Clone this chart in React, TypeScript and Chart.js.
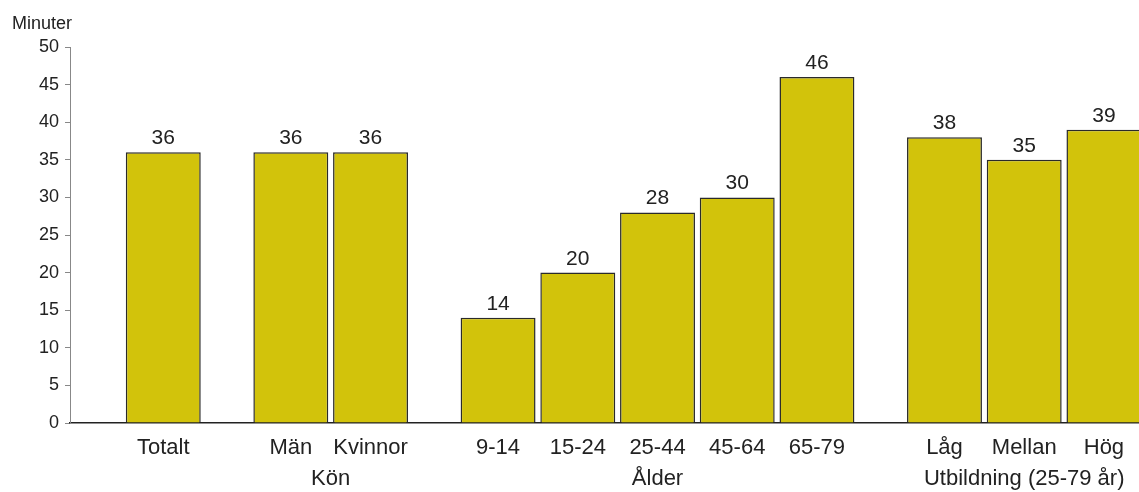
import React, { useEffect, useRef } from 'react';
import { Chart, registerables } from 'chart.js';

Chart.register(...registerables);

const categories = ['Totalt', 'Män', 'Kvinnor', '9-14', '15-24', '25-44', '45-64', '65-79', 'Låg', 'Mellan', 'Hög'];
const values = [36, 36, 36, 14, 20, 28, 30, 46, 38, 35, 39];
const groupSizes = [1, 2, 5, 3];
const groupLabels = ['', 'Kön', 'Ålder', 'Utbildning (25-79 år)'];
const yTicks = [0, 5, 10, 15, 20, 25, 30, 35, 40, 45, 50];
const yTitle = 'Minuter';

const FONT = '"Liberation Sans", Arial, Helvetica, sans-serif';
const TEXT = '#222222';
const GAP = 0.6;

// layout positions derived from the group structure
const positions: number[] = [];
const groupCenters: number[] = [];
{
  let p = 0;
  groupSizes.forEach((n) => {
    const start = p;
    for (let i = 0; i < n; i++) {
      positions.push(p);
      p += 1;
    }
    groupCenters.push((start + p - 1) / 2);
    p += GAP;
  });
}
const X_MIN = positions[0] - 1.17;
const X_MAX = positions[positions.length - 1] + 0.44;

const dataLabelPlugin = {
  id: 'dataLabels',
  afterDatasetsDraw(chart: any) {
    const ctx = chart.ctx;
    const meta = chart.getDatasetMeta(0);
    ctx.save();
    ctx.font = `21px ${FONT}`;
    ctx.fillStyle = TEXT;
    ctx.textAlign = 'center';
    ctx.textBaseline = 'alphabetic';
    meta.data.forEach((el: any, i: number) => {
      ctx.fillText(String(values[i]), el.x, el.y - 8);
    });
    ctx.restore();
  },
};

const yTitlePlugin = {
  id: 'yTitle',
  afterDraw(chart: any) {
    const ctx = chart.ctx;
    ctx.save();
    ctx.font = `18px ${FONT}`;
    ctx.fillStyle = TEXT;
    ctx.textAlign = 'left';
    ctx.textBaseline = 'alphabetic';
    ctx.fillText(yTitle, 12, 29);
    ctx.restore();
  },
};

export default function App() {
  const ref = useRef<HTMLCanvasElement | null>(null);

  useEffect(() => {
    if (!ref.current) return;
    const chart = new Chart(ref.current, {
      type: 'bar',
      data: {
        datasets: [
          {
            data: values.map((v, i) => ({ x: positions[i], y: v })),
            backgroundColor: '#D2C30B',
            borderColor: '#2a2a2a',
            borderWidth: 1.5,
            barPercentage: 1,
            categoryPercentage: 0.94,
          },
        ],
      },
      options: {
        animation: false,
        responsive: true,
        maintainAspectRatio: false,
        layout: { padding: { top: 47, left: 0, right: 0, bottom: 0 } },
        plugins: {
          legend: { display: false },
          tooltip: { enabled: false },
          title: { display: false },
        },
        scales: {
          x: {
            type: 'linear',
            position: 'bottom',
            offset: false,
            min: X_MIN,
            max: X_MAX,
            afterBuildTicks: (s: any) => {
              s.ticks = positions.map((v) => ({ value: v }));
            },
            afterFit: (s: any) => {
              s.height = 38;
            },
            ticks: {
              callback: (_v: any, i: number) => categories[i],
              font: { size: 22, family: FONT },
              color: TEXT,
              padding: 12,
              autoSkip: false,
              maxRotation: 0,
            },
            grid: { display: true, offset: false, drawOnChartArea: false, drawTicks: false },
            border: { display: true, color: '#222222', width: 1.5 },
          },
          x2: {
            type: 'linear',
            position: 'bottom',
            offset: false,
            min: X_MIN,
            max: X_MAX,
            afterBuildTicks: (s: any) => {
              s.ticks = groupCenters.slice(1).map((v) => ({ value: v }));
            },
            afterFit: (s: any) => {
              s.height = 31;
            },
            ticks: {
              callback: (_v: any, i: number) => groupLabels[i + 1],
              font: { size: 22, family: FONT },
              color: TEXT,
              padding: 5,
              autoSkip: false,
              maxRotation: 0,
            },
            grid: { display: false, offset: false, drawTicks: false },
            border: { display: false },
          },
          y: {
            min: 0,
            max: 50,
            afterBuildTicks: (s: any) => {
              s.ticks = yTicks.map((v) => ({ value: v }));
            },
            afterFit: (s: any) => {
              s.width = 70;
            },
            ticks: {
              font: { size: 18, family: FONT },
              color: TEXT,
              padding: 6,
            },
            grid: { drawOnChartArea: false, drawTicks: true, tickLength: 5, color: '#888888' },
            border: { display: true, color: '#888888', width: 1 },
          },
        },
      } as any,
      plugins: [dataLabelPlugin, yTitlePlugin],
    });
    return () => chart.destroy();
  }, []);

  return (
    <div style={{ position: 'absolute', left: 0, top: 0, width: 1139, height: 492 }}>
      <canvas ref={ref} />
    </div>
  );
}
